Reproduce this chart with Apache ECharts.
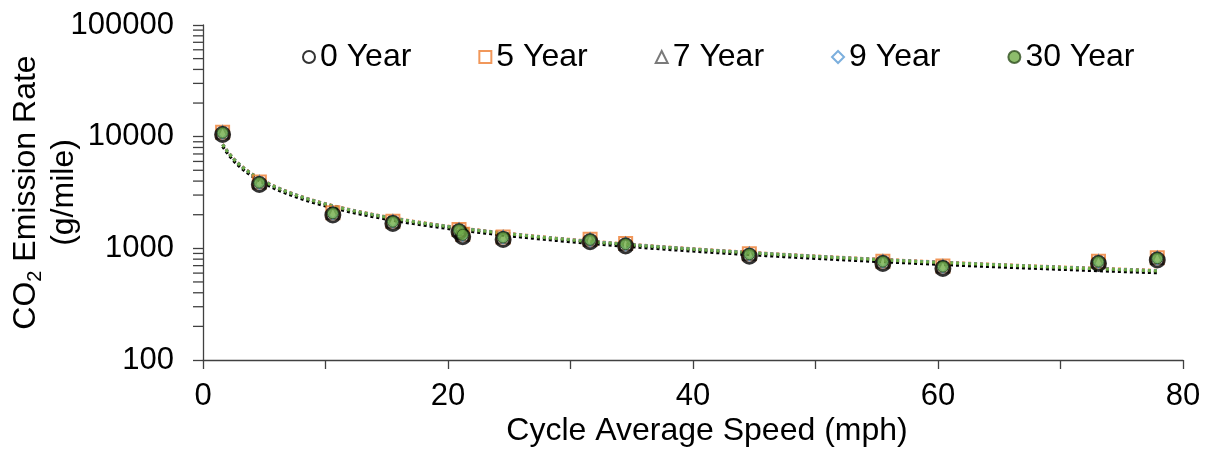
<!DOCTYPE html>
<html>
<head>
<meta charset="utf-8">
<script src="https://cdn.jsdelivr.net/npm/echarts@6/dist/echarts.min.js"></script>
<style>
  html, body { margin: 0; padding: 0; background: #fff; }
  #chart { width: 1213px; height: 449px; }
</style>
</head>
<body>
<div id="chart"></div>
<script>
// Cycle average speed (mph) for each driving cycle
const speed = [1.6, 4.6, 10.6, 15.5, 20.9, 21.2, 24.5, 31.6, 34.5, 44.6, 55.5, 60.4, 73.1, 77.9];

// CO2 emission rate (g/mile) by vehicle age
const year0  = [10450, 3730, 1985, 1670, 1405, 1270, 1200, 1145, 1050, 850, 730, 660, 730, 785];
const year5  = [10950, 3920, 2085, 1750, 1475, 1335, 1265, 1205, 1105, 895, 768, 693, 768, 825];
const year7  = [10900, 3890, 2070, 1740, 1465, 1325, 1255, 1195, 1095, 888, 762, 688, 763, 818];
const year9  = [10850, 3880, 2065, 1735, 1462, 1322, 1252, 1192, 1092, 886, 761, 686, 761, 816];
const year30 = [10840, 3870, 2060, 1730, 1460, 1320, 1250, 1190, 1090, 885, 760, 685, 760, 815];

const seriesNames = ['0 Year', '5 Year', '7 Year', '9 Year', '30 Year'];

// Axis ticks
const xTicks = [0, 20, 40, 60, 80];
const yDecades = [100, 1000, 10000, 100000];

const FONT = 'Liberation Sans, Arial, sans-serif';

// Least-squares power fit y = a * x^b (power trendline)
function powerFit(xs, ys) {
  const n = xs.length;
  let sx = 0, sy = 0, sxx = 0, sxy = 0;
  for (let i = 0; i < n; i++) {
    const lx = Math.log(xs[i]), ly = Math.log(ys[i]);
    sx += lx; sy += ly; sxx += lx * lx; sxy += lx * ly;
  }
  const b = (n * sxy - sx * sy) / (n * sxx - sx * sx);
  const a = Math.exp((sy - b * sx) / n);
  return { a, b };
}

function trendPoints(xs, ys) {
  const f = powerFit(xs, ys);
  const lo = Math.min(...xs), hi = Math.max(...xs);
  const pts = [];
  const steps = 160;
  for (let i = 0; i <= steps; i++) {
    const x = lo + (hi - lo) * i / steps;
    pts.push([x, f.a * Math.pow(x, f.b)]);
  }
  return pts;
}

function pairs(xs, ys) { return xs.map((x, i) => [x, ys[i]]); }

// Minor tick values on the log axis (2..9 within each decade)
const minorTicks = [];
for (let d = 0; d < yDecades.length - 1; d++) {
  for (let k = 2; k <= 9; k++) minorTicks.push([0, yDecades[d] * k]);
}

function trend(name, ys, color) {
  return {
    name: name + ' trend',
    type: 'line',
    data: trendPoints(speed, ys),
    showSymbol: false,
    symbol: 'none',
    silent: true,
    lineStyle: { color: color, width: 3, type: [3, 3], cap: 'butt' },
    z: 2
  };
}

function scatter(name, ys, symbol, size, style, z) {
  return {
    name: name,
    type: 'scatter',
    data: pairs(speed, ys),
    symbol: symbol,
    symbolSize: size,
    itemStyle: style,
    z: z
  };
}

const chart = echarts.init(document.getElementById('chart'), null, { renderer: 'canvas' });

chart.setOption({
  animation: false,
  backgroundColor: '#ffffff',
  grid: { left: 203, right: 30, top: 25, bottom: 89, containLabel: false, outerBoundsMode: 'none' },
  legend: {
    data: seriesNames,
    left: 297,
    top: 36,
    itemWidth: 12,
    itemHeight: 12,
    itemGap: 67,
    textStyle: { fontFamily: FONT, fontSize: 32, color: '#000' }
  },
  xAxis: {
    type: 'value',
    min: 0,
    max: 80,
    interval: 10,
    name: 'Cycle Average Speed (mph)',
    nameLocation: 'middle',
    nameGap: 55,
    nameMoveOverlap: false,
    nameTextStyle: { fontFamily: FONT, fontSize: 32, color: '#000', padding: [0, 0, 0, 28] },
    axisLine: { onZero: false, lineStyle: { color: '#404040', width: 1.3 } },
    axisTick: { show: true, inside: false, length: 9, lineStyle: { color: '#404040', width: 1.3 } },
    axisLabel: {
      fontFamily: FONT, fontSize: 31, color: '#000', margin: 21,
      formatter: v => (xTicks.indexOf(v) >= 0 ? String(v) : '')
    },
    splitLine: { show: false }
  },
  yAxis: {
    type: 'log',
    logBase: 10,
    min: 100,
    max: 100000,
    name: '{a|CO}{s|2}{a| Emission Rate}\n{a|(g/mile)}',
    nameLocation: 'middle',
    nameGap: 120,
    nameMoveOverlap: false,
    nameTextStyle: {
      fontFamily: FONT, color: '#000', align: 'center',
      rich: {
        a: { fontFamily: FONT, fontSize: 32, color: '#000', lineHeight: 38 },
        s: { fontFamily: FONT, fontSize: 20, color: '#000', lineHeight: 20, verticalAlign: 'bottom' }
      }
    },
    axisLine: { show: true, lineStyle: { color: '#404040', width: 1.3 } },
    axisTick: { show: true, inside: false, length: 10, lineStyle: { color: '#404040', width: 1.3 } },
    axisLabel: { fontFamily: FONT, fontSize: 31, color: '#000', margin: 29, formatter: v => String(v) },
    splitLine: { show: false },
    minorTick: { show: false }
  },
  series: [
    // minor ticks of the logarithmic axis
    {
      name: 'minor ticks',
      type: 'custom',
      silent: true,
      clip: false,
      data: minorTicks,
      renderItem: function (params, api) {
        const p = api.coord([api.value(0), api.value(1)]);
        return {
          type: 'line',
          shape: { x1: p[0] - 10, y1: p[1], x2: p[0], y2: p[1] },
          style: { stroke: '#404040', lineWidth: 1.3 }
        };
      },
      z: 1
    },
    trend('5 Year', year5, '#ED7D31'),
    trend('7 Year', year7, '#595959'),
    trend('9 Year', year9, '#5B9BD5'),
    trend('0 Year', year0, '#000000'),
    trend('30 Year', year30, '#70AD47'),
    scatter('5 Year', year5, 'rect', 13,
      { color: 'rgba(0,0,0,0)', borderColor: '#ED7D31', borderWidth: 2 }, 3),
    scatter('7 Year', year7, 'triangle', 12,
      { color: 'rgba(0,0,0,0)', borderColor: '#595959', borderWidth: 2 }, 3),
    scatter('9 Year', year9, 'diamond', 12,
      { color: 'rgba(0,0,0,0)', borderColor: '#5B9BD5', borderWidth: 2 }, 3),
    scatter('0 Year', year0, 'circle', 14,
      { color: 'rgba(0,0,0,0)', borderColor: '#000000', borderWidth: 3 }, 4),
    scatter('30 Year', year30, 'circle', 11,
      { color: '#70AD47', borderColor: '#2f4f1f', borderWidth: 1 }, 5)
  ]
});
</script>
</body>
</html>
